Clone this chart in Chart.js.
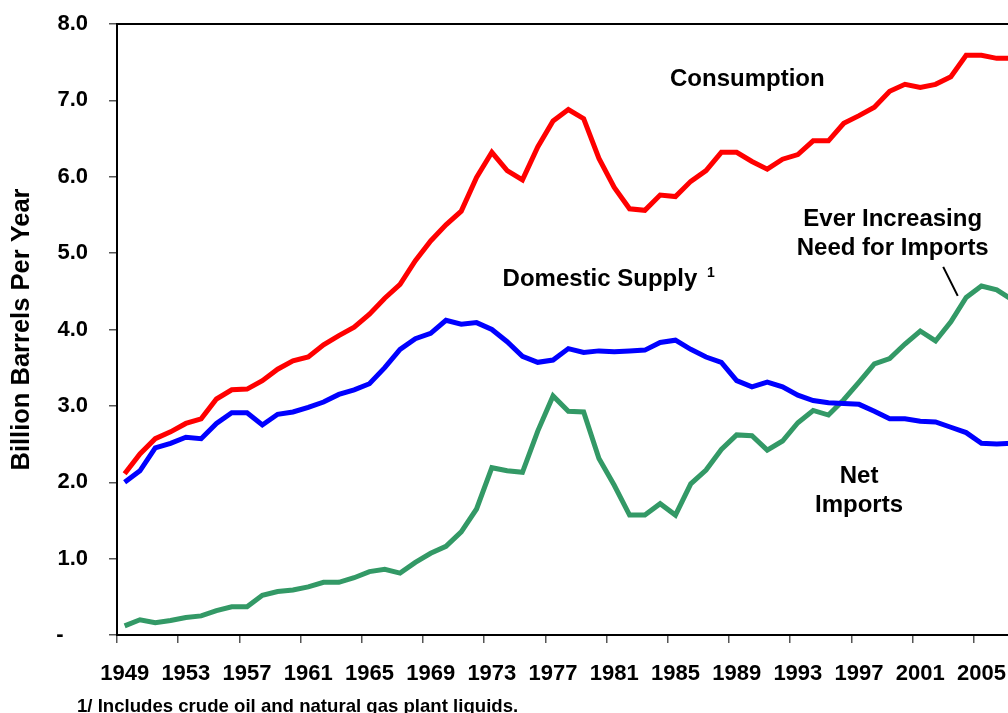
<!DOCTYPE html>
<html>
<head>
<meta charset="utf-8">
<script src="https://cdn.jsdelivr.net/npm/chart.js@4.4.1/dist/chart.umd.min.js"></script>
<style>
  html, body { margin: 0; padding: 0; background: #fff; overflow: hidden; }
  #wrap { position: absolute; left: 0; top: 0; width: 1040px; height: 713px; }
</style>
</head>
<body>
<div id="wrap"><canvas id="oilChart"></canvas></div>
<script>
/* Data: billion barrels per year, 1949-2007 */
const years = [];
for (let y = 1949; y <= 2007; y++) years.push(String(y));

const consumption = [
  2.11, 2.37, 2.57, 2.66, 2.77, 2.83, 3.09, 3.21, 3.22, 3.33,
  3.48, 3.59, 3.64, 3.80, 3.92, 4.03, 4.20, 4.41, 4.59, 4.90,
  5.16, 5.37, 5.55, 5.99, 6.32, 6.08, 5.96, 6.39, 6.73, 6.88,
  6.76, 6.24, 5.86, 5.58, 5.56, 5.76, 5.74, 5.94, 6.08, 6.32,
  6.32, 6.20, 6.10, 6.23, 6.29, 6.47, 6.47, 6.70, 6.80, 6.91,
  7.12, 7.21, 7.17, 7.21, 7.31, 7.59, 7.59, 7.55, 7.55
];
const domesticSupply = [
  2.00, 2.15, 2.45, 2.51, 2.59, 2.57, 2.77, 2.91, 2.91, 2.75,
  2.89, 2.92, 2.98, 3.05, 3.15, 3.21, 3.29, 3.50, 3.74, 3.88,
  3.95, 4.12, 4.07, 4.09, 4.00, 3.84, 3.65, 3.57, 3.60, 3.75,
  3.70, 3.72, 3.71, 3.72, 3.73, 3.83, 3.86, 3.74, 3.64, 3.57,
  3.33, 3.25, 3.31, 3.25, 3.14, 3.07, 3.04, 3.03, 3.02, 2.93,
  2.83, 2.83, 2.80, 2.79, 2.72, 2.65, 2.51, 2.50, 2.51
];
const netImports = [
  0.12, 0.20, 0.16, 0.19, 0.23, 0.25, 0.32, 0.37, 0.37, 0.52,
  0.57, 0.59, 0.63, 0.69, 0.69, 0.75, 0.83, 0.86, 0.81, 0.95,
  1.07, 1.16, 1.35, 1.65, 2.19, 2.15, 2.13, 2.67, 3.13, 2.93,
  2.92, 2.31, 1.96, 1.57, 1.57, 1.72, 1.57, 1.98, 2.16, 2.43,
  2.62, 2.61, 2.42, 2.54, 2.78, 2.94, 2.88, 3.08, 3.31, 3.55,
  3.62, 3.81, 3.98, 3.85, 4.10, 4.42, 4.57, 4.52, 4.39
];
const yTicks = [0, 1, 2, 3, 4, 5, 6, 7, 8];

const FONT = '"Liberation Sans", Arial, Helvetica, sans-serif';

/* text labels placed in data units (x = category index, y = value) */
const notes = [
  { lines: ['Consumption'], x: 40.7, y: 7.28 },
  { lines: ['Ever Increasing', 'Need for Imports'], x: 50.2, y: 5.44 },
  { lines: ['Net', 'Imports'], x: 48.0, y: 2.075 }
];
const domesticNote = { text: 'Domestic Supply', sup: '1', x: 24.7, y: 4.655 };
const pointer = { x1: 53.5, y1: 4.82, x2: 54.45, y2: 4.44 };

const annotatePlugin = {
  id: 'annotate',
  afterDraw(chart) {
    const { ctx, chartArea, scales } = chart;
    const xs = scales.x, ys = scales.y;
    ctx.save();
    // top frame line
    ctx.strokeStyle = '#000';
    ctx.lineWidth = 2;
    ctx.beginPath();
    ctx.moveTo(chartArea.left, chartArea.top);
    ctx.lineTo(chartArea.right, chartArea.top);
    ctx.stroke();

    ctx.fillStyle = '#000';
    ctx.font = 'bold 24px ' + FONT;
    ctx.textBaseline = 'middle';
    ctx.textAlign = 'center';
    notes.forEach(n => {
      const px = xs.getPixelForValue(n.x);
      const py = ys.getPixelForValue(n.y);
      n.lines.forEach((t, i) => ctx.fillText(t, px, py + i * 29));
    });

    // domestic supply with superscript footnote mark
    ctx.textAlign = 'left';
    const dx = xs.getPixelForValue(domesticNote.x);
    const dy = ys.getPixelForValue(domesticNote.y);
    ctx.fillText(domesticNote.text, dx, dy);
    const w = ctx.measureText(domesticNote.text + ' ').width;
    ctx.font = 'bold 14px ' + FONT;
    ctx.fillText(domesticNote.sup, dx + w + 3, dy - 6);

    // pointer line
    ctx.lineWidth = 2;
    ctx.beginPath();
    ctx.moveTo(xs.getPixelForValue(pointer.x1), ys.getPixelForValue(pointer.y1));
    ctx.lineTo(xs.getPixelForValue(pointer.x2), ys.getPixelForValue(pointer.y2));
    ctx.stroke();

    // footnote
    ctx.font = 'bold 18.6px ' + FONT;
    ctx.textBaseline = 'alphabetic';
    ctx.textAlign = 'left';
    ctx.fillText('1/ Includes crude oil and natural gas plant liquids.', 77, 712);
    ctx.restore();
  }
};

function makeLine(label, data, color) {
  return {
    label: label,
    data: data,
    borderColor: color,
    backgroundColor: color,
    borderWidth: 5,
    pointRadius: 0,
    tension: 0,
    fill: false
  };
}

const ctx = document.getElementById('oilChart').getContext('2d');
new Chart(ctx, {
  type: 'line',
  data: {
    labels: years,
    datasets: [
      makeLine('Consumption', consumption, '#ff0000'),
      makeLine('Domestic Supply', domesticSupply, '#0000ff'),
      makeLine('Net Imports', netImports, '#339966')
    ]
  },
  options: {
    responsive: true,
    maintainAspectRatio: false,
    animation: false,
    layout: { padding: { left: 0, top: 24, right: 20.3, bottom: 0 } },
    plugins: {
      legend: { display: false },
      tooltip: { enabled: false }
    },
    scales: {
      x: {
        type: 'category',
        offset: true,
        afterFit(scale) {
          scale.height = 78;
          scale.paddingLeft = 0;
          scale.paddingRight = 0;
        },
        border: { color: '#000', width: 2 },
        grid: {
          offset: true,
          drawOnChartArea: false,
          drawTicks: true,
          tickLength: 8,
          lineWidth: 1.5,
          color: c => (c.index % 4 === 0 ? '#555' : 'rgba(0,0,0,0)')
        },
        ticks: {
          autoSkip: false,
          maxRotation: 0,
          minRotation: 0,
          padding: 18,
          color: '#000',
          font: { family: FONT, size: 22, weight: 'bold' },
          callback: (v, i) => (i % 4 === 0 ? years[i] : '')
        }
      },
      y: {
        min: 0,
        max: 8,
        afterFit(scale) {
          scale.width = 117;
          scale.paddingTop = 0;
          scale.paddingBottom = 0;
        },
        afterBuildTicks(scale) { scale.ticks = yTicks.map(v => ({ value: v })); },
        border: { color: '#000', width: 2 },
        grid: {
          drawOnChartArea: false,
          drawTicks: true,
          tickLength: 8,
          lineWidth: 1.5,
          color: '#555'
        },
        ticks: {
          padding: 21,
          color: '#000',
          font: { family: FONT, size: 22, weight: 'bold' },
          callback: v => (v === 0 ? '-    ' : v.toFixed(1))
        },
        title: {
          display: true,
          text: 'Billion Barrels Per Year',
          color: '#000',
          font: { family: FONT, size: 25.5, weight: 'bold' },
          padding: { top: 7, bottom: 0 }
        }
      }
    }
  },
  plugins: [annotatePlugin]
});
</script>
</body>
</html>
